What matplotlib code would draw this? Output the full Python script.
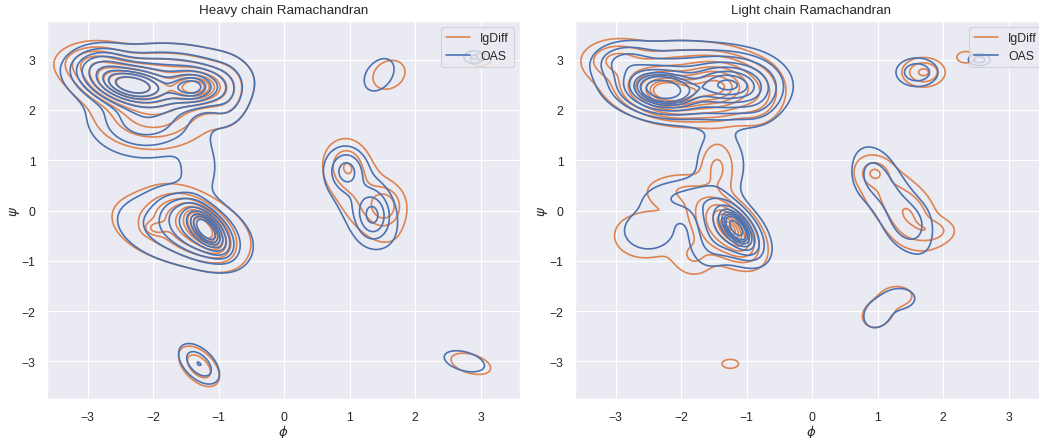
"""Ramachandran KDE contours: IgDiff vs OAS, heavy and light chains."""

import numpy as np
import matplotlib

matplotlib.use("Agg")
import matplotlib.pyplot as plt  # noqa: E402
import seaborn as sns  # noqa: E402

sns.set_theme(style="darkgrid", context="paper")
plt.rcParams["font.family"] = ["Liberation Sans", "DejaVu Sans"]

# density components: phi, psi, sd_phi, sd_psi, rho, weight
heavy_oas_phi = [-2.35, -1.40, -1.85, -2.10, -2.80, -0.90, -1.18, -1.30, -1.55, -1.30, 0.95, 1.35, 1.20, 1.45, -1.30, 2.75, 2.90]
heavy_oas_psi = [2.50, 2.45, 2.60, 1.80, 2.90, 2.30, -0.38, -0.35, -0.40, 0.85, 0.80, -0.10, 0.15, 2.70, -3.05, -3.00, 3.05]
heavy_oas_sdx = [0.35, 0.22, 0.60, 0.45, 0.25, 0.20, 0.15, 0.30, 0.55, 0.20, 0.16, 0.15, 0.33, 0.17, 0.17, 0.22, 0.10]
heavy_oas_sdy = [0.22, 0.18, 0.33, 0.38, 0.20, 0.35, 0.22, 0.35, 0.40, 0.40, 0.24, 0.28, 0.55, 0.24, 0.22, 0.15, 0.08]
heavy_oas_rho = [-0.35, 0.0, 0.0, 0.0, 0.0, 0.0, -0.60, -0.50, -0.30, 0.0, 0.0, 0.0, -0.55, 0.35, -0.50, -0.40, 0.0]
heavy_oas_w = [0.20, 0.08, 0.17, 0.09, 0.03, 0.02, 0.07, 0.09, 0.08, 0.012, 0.015, 0.022, 0.032, 0.007, 0.013, 0.006, 0.002]

heavy_ig_phi = [-2.35, -1.35, -1.85, -2.00, -2.90, -0.90, -1.22, -1.35, -1.60, -1.95, 0.95, 1.55, 1.25, 1.60, -1.30, 2.85, 3.00]
heavy_ig_psi = [2.50, 2.45, 2.60, 1.90, 2.95, 2.30, -0.35, -0.35, -0.35, -0.35, 0.90, 0.10, 0.25, 2.70, -3.10, -3.05, 3.00]
heavy_ig_sdx = [0.35, 0.22, 0.60, 0.45, 0.28, 0.20, 0.15, 0.30, 0.55, 0.10, 0.18, 0.15, 0.33, 0.17, 0.17, 0.20, 0.10]
heavy_ig_sdy = [0.22, 0.18, 0.33, 0.35, 0.20, 0.35, 0.22, 0.35, 0.40, 0.08, 0.28, 0.22, 0.55, 0.20, 0.22, 0.14, 0.08]
heavy_ig_rho = [-0.35, 0.0, 0.0, 0.0, 0.0, 0.0, -0.60, -0.50, -0.30, 0.0, 0.0, 0.0, -0.55, 0.20, -0.50, -0.40, 0.0]
heavy_ig_w = [0.20, 0.08, 0.17, 0.08, 0.035, 0.02, 0.07, 0.09, 0.09, 0.004, 0.015, 0.015, 0.040, 0.007, 0.013, 0.006, 0.002]

light_oas_phi = [-2.30, -1.25, -1.90, -2.85, -0.85, -1.15, -1.25, -2.50, -2.00, -1.55, -1.40, 0.90, 1.50, 1.25, 1.60, 1.00, 1.35, 2.55]
light_oas_psi = [2.40, 2.50, 2.55, 2.95, 2.30, -0.35, -0.35, -0.40, 0.25, -0.70, 0.90, 0.70, -0.25, 0.15, 2.75, -2.05, -1.75, 3.00]
light_oas_sdx = [0.30, 0.35, 0.62, 0.25, 0.20, 0.14, 0.28, 0.35, 0.35, 0.20, 0.28, 0.20, 0.20, 0.32, 0.18, 0.18, 0.17, 0.10]
light_oas_sdy = [0.22, 0.28, 0.38, 0.20, 0.30, 0.22, 0.35, 0.35, 0.22, 0.30, 0.50, 0.32, 0.28, 0.60, 0.16, 0.24, 0.15, 0.07]
light_oas_rho = [-0.20, 0.0, -0.10, 0.0, 0.0, -0.60, -0.50, 0.0, 0.0, 0.0, 0.0, 0.0, 0.0, -0.70, 0.0, 0.20, 0.0, 0.0]
light_oas_w = [0.20, 0.17, 0.18, 0.02, 0.02, 0.06, 0.08, 0.015, 0.015, 0.01, 0.022, 0.008, 0.008, 0.035, 0.010, 0.006, 0.004, 0.002]

light_ig_phi = [-2.20, -1.45, -1.90, -3.00, -0.85, -1.25, -1.35, -2.55, -2.05, -1.80, -1.45, 0.95, 1.50, 1.30, 1.85, 1.70, 1.00, 1.30, -1.25, 2.35]
light_ig_psi = [2.35, 2.45, 2.55, 3.00, 2.30, -0.35, -0.35, -0.50, 0.40, -0.90, 0.85, 0.75, -0.15, 0.15, -0.40, 2.75, -2.05, -1.70, -3.05, 3.05]
light_ig_sdx = [0.30, 0.30, 0.62, 0.28, 0.20, 0.14, 0.30, 0.36, 0.35, 0.20, 0.15, 0.13, 0.20, 0.38, 0.20, 0.18, 0.17, 0.18, 0.10, 0.10]
light_ig_sdy = [0.22, 0.27, 0.38, 0.22, 0.30, 0.22, 0.38, 0.34, 0.22, 0.25, 0.30, 0.15, 0.32, 0.55, 0.15, 0.16, 0.20, 0.15, 0.07, 0.08]
light_ig_rho = [-0.20, 0.0, -0.10, 0.0, 0.0, -0.60, -0.50, 0.0, 0.0, 0.0, 0.0, 0.0, 0.0, -0.65, 0.0, 0.0, 0.20, 0.0, 0.0, 0.0]
light_ig_w = [0.20, 0.17, 0.18, 0.02, 0.02, 0.05, 0.09, 0.020, 0.012, 0.01, 0.010, 0.005, 0.009, 0.040, 0.006, 0.011, 0.006, 0.004, 0.0011, 0.0015]

ticks = [-3, -2, -1, 0, 1, 2, 3]
oas_color = sns.color_palette("deep")[0]
ig_color = sns.color_palette("deep")[1]

gx, gy = np.meshgrid(np.linspace(-3.62, 3.62, 300), np.linspace(-3.75, 3.75, 300))


def density(phi, psi, sdx, sdy, rho, w):
    z = np.zeros_like(gx)
    for mx, my, sx, sy, r, wt in zip(phi, psi, sdx, sdy, rho, w):
        u = (gx - mx) / sx
        v = (gy - my) / sy
        q = (u * u - 2 * r * u * v + v * v) / (1 - r * r)
        z += wt * np.exp(-0.5 * q) / (2 * np.pi * sx * sy * np.sqrt(1 - r * r))
    return z


def iso_levels(z, props=np.linspace(0.05, 1, 10)):
    # same iso-proportion levels as seaborn's kdeplot
    vals = np.sort(z.ravel())[::-1]
    cum = np.cumsum(vals) / vals.sum()
    idx = np.searchsorted(cum, 1 - props)
    return np.unique(np.take(vals, idx, mode="clip"))


def kde_panel(ax, ig, oas, title):
    for comps, color in ((ig, ig_color), (oas, oas_color)):
        z = density(*comps)
        ax.contour(gx, gy, z, levels=iso_levels(z), colors=[color], linewidths=1.2)
    ax.plot([], [], color=ig_color, label="IgDiff")
    ax.plot([], [], color=oas_color, label="OAS")
    ax.legend(loc="upper right")
    ax.set_xlim(-3.62, 3.6)
    ax.set_ylim(-3.75, 3.77)
    ax.set_xticks(ticks)
    ax.set_yticks(ticks)
    ax.set_xlabel(r"$\phi$", labelpad=0)
    ax.set_ylabel(r"$\psi$", labelpad=0)
    ax.set_title(title)


fig = plt.figure(figsize=(10.39, 4.39), dpi=100)
ax1 = fig.add_axes([47 / 1039, 39 / 439, 473 / 1039, 378 / 439])
ax2 = fig.add_axes([575 / 1039, 39 / 439, 473 / 1039, 378 / 439])

kde_panel(ax1,
          (heavy_ig_phi, heavy_ig_psi, heavy_ig_sdx, heavy_ig_sdy, heavy_ig_rho, heavy_ig_w),
          (heavy_oas_phi, heavy_oas_psi, heavy_oas_sdx, heavy_oas_sdy, heavy_oas_rho, heavy_oas_w),
          "Heavy chain Ramachandran")
kde_panel(ax2,
          (light_ig_phi, light_ig_psi, light_ig_sdx, light_ig_sdy, light_ig_rho, light_ig_w),
          (light_oas_phi, light_oas_psi, light_oas_sdx, light_oas_sdy, light_oas_rho, light_oas_w),
          "Light chain Ramachandran")

fig.savefig("out.png", dpi=100)
